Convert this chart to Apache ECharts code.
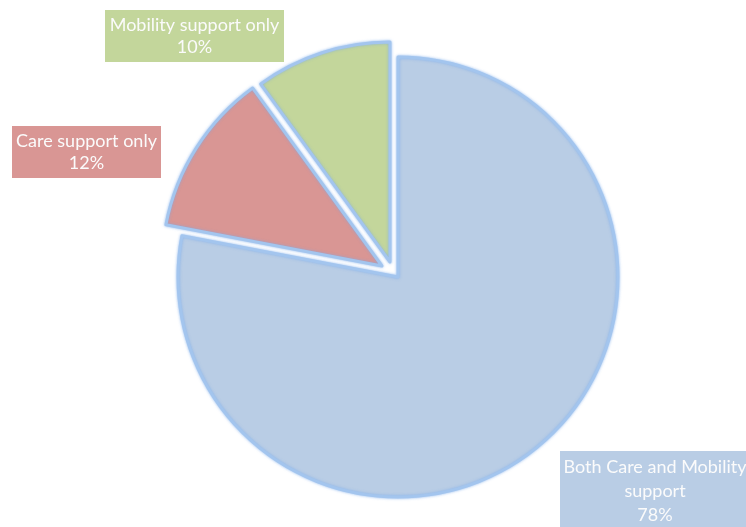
<!DOCTYPE html>
<html>
<head>
<meta charset="utf-8">
<title>Support type</title>
<script src="https://cdn.jsdelivr.net/npm/echarts@6/dist/echarts.min.js"></script>
<style>
  html, body { margin: 0; padding: 0; background: #ffffff; }
  #chart { width: 746px; height: 527px; }
</style>
</head>
<body>
<div id="chart"></div>
<script>
// Categories, their shares (percent) and the text shown in each label box
const categories = ['Both Care and Mobility support', 'Care support only', 'Mobility support only'];
const labelNames = ['Both Care and Mobility\nsupport', 'Care support only', 'Mobility support only'];
const shares = [78, 12, 10];

// Styling per slice
const sliceColors = ['#b9cde5', '#d99694', '#c3d69b'];
// Each slice is pulled out a little from the common centre
const sliceCenters = [[398, 277], [382, 266], [390, 262]];
// Label box centres and sizes
const labelBoxes = [
  { x: 655, y: 491, w: 186, h: 72, lh: 24 },
  { x: 86.5, y: 152, w: 145, h: 44, lh: 22 },
  { x: 194.5, y: 36, w: 175, h: 44, lh: 22 }
];

const chart = echarts.init(document.getElementById('chart'), null, { renderer: 'canvas' });

// One pie per slice so every exploded slice can sit on its own centre;
// the other slices in that pie are left invisible.
const series = categories.map(function (cat, k) {
  return {
    type: 'pie',
    center: sliceCenters[k],
    radius: [0, 220],
    startAngle: 90,
    clockwise: true,
    avoidLabelOverlap: false,
    silent: true,
    animation: false,
    emphasis: { disabled: true },
    labelLine: { show: false },
    data: categories.map(function (name, i) {
      const visible = i === k;
      return {
        name: name,
        value: shares[i],
        itemStyle: visible ? {
          color: sliceColors[i],
          borderColor: '#a3c5ee',
          borderWidth: 3,
          shadowBlur: 3,
          shadowColor: 'rgba(120,170,235,0.7)'
        } : { color: 'rgba(0,0,0,0)', borderWidth: 0 },
        label: visible ? {
          show: true,
          position: 'outside',
          formatter: labelNames[i] + '\n' + shares[i] + '%',
          color: '#fbfbfb',
          fontFamily: 'Lato',
          fontSize: 18,
          lineHeight: labelBoxes[i].lh,
          backgroundColor: sliceColors[i],
          width: labelBoxes[i].w,
          height: labelBoxes[i].h,
          overflow: 'none',
          padding: [4, 2],
          align: 'center'
        } : { show: false }
      };
    }),
    labelLayout: function (params) {
      const b = labelBoxes[params.dataIndex];
      return { x: b.x, y: b.y, align: 'center', verticalAlign: 'middle' };
    }
  };
});

chart.setOption({
  backgroundColor: '#ffffff',
  series: series
});
</script>
</body>
</html>
